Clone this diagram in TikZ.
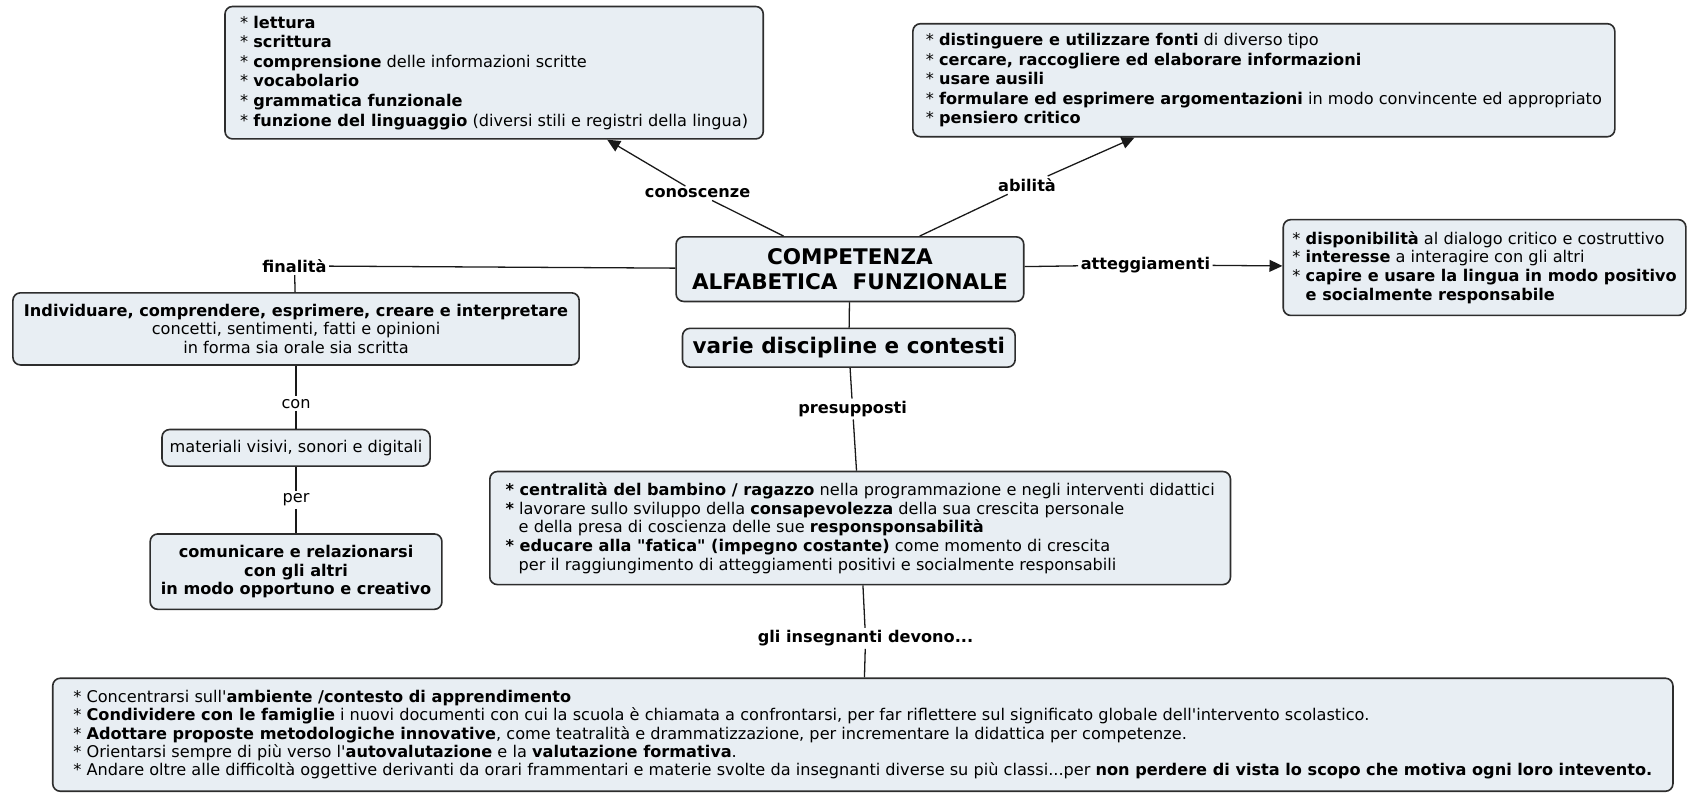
\documentclass[tikz,border=0pt]{standalone}
\usepackage{fontspec}
\setmainfont{DejaVu Sans}[Ligatures=TeXOff]
\usetikzlibrary{arrows.meta}
\definecolor{boxfill}{RGB}{232,238,243}
\definecolor{boxline}{RGB}{45,45,45}
\definecolor{linkcol}{RGB}{25,25,25}
\tikzset{
  concept/.style={draw=boxline, line width=0.75pt, fill=boxfill, rounded corners=3.5pt, inner sep=0pt, font=\fontsize{7.5}{8.9}\selectfont},
  leftc/.style={concept, align=left},
  centc/.style={concept, align=center},
  linklabel/.style={inner sep=1pt, font=\fontsize{7.5}{9}\selectfont\bfseries},
  linklabelr/.style={inner sep=1pt, font=\fontsize{7.5}{9}\selectfont},
  conn/.style={draw=linkcol, line width=0.6pt},
  arr/.style={conn, -{Triangle[length=6pt,width=5.5pt]}},
}
\begin{document}
\begin{tikzpicture}[x=0.5pt,y=-0.5pt]
\useasboundingbox (0,0) rectangle (1568,736);

% concepts
\node[leftc, minimum width=250pt, minimum height=61.5pt, font=\fontsize{7.5}{9.1}\selectfont] (nK) at (459,67.5) {%
* \textbf{lettura}\\
* \textbf{scrittura}\\
* \textbf{comprensione} delle informazioni scritte\\
* \textbf{vocabolario}\\
* \textbf{grammatica funzionale}\\
* \textbf{funzione del linguaggio} (diversi stili e registri della lingua)};

\node[leftc, minimum width=326pt, minimum height=52.5pt, font=\fontsize{7.5}{9.1}\selectfont] (nA) at (1174,74.5) {%
* \textbf{distinguere e utilizzare fonti} di diverso tipo\\
* \textbf{cercare, raccogliere ed elaborare informazioni}\\
* \textbf{usare ausili}\\
* \textbf{formulare ed esprimere argomentazioni} in modo convincente ed appropriato\\
* \textbf{pensiero critico}};

\node[centc, minimum width=161.5pt, minimum height=30pt, font=\fontsize{10}{12}\selectfont\bfseries] (nC) at (789.5,250) {COMPETENZA\\ALFABETICA\ \ FUNZIONALE};

\node[centc, minimum width=154.5pt, minimum height=18pt, font=\fontsize{10}{12}\selectfont\bfseries] (nV) at (788.5,323) {varie discipline e contesti};

\node[centc, minimum width=263pt, minimum height=33.5pt, font=\fontsize{7.5}{8.6}\selectfont] (nI) at (275,305.5) {%
\textbf{Individuare, comprendere, esprimere, creare e interpretare}\\
concetti, sentimenti, fatti e opinioni\\
in forma sia orale sia scritta};

\node[centc, minimum width=124.5pt, minimum height=17pt] (nM) at (275,416) {materiali visivi, sonori e digitali};

\node[centc, minimum width=135.5pt, minimum height=35pt, font=\fontsize{7.5}{8.65}\selectfont\bfseries] (nCo) at (275,531) {%
comunicare e relazionarsi\\con gli altri\\in modo opportuno e creativo};

\node[leftc, minimum width=187pt, minimum height=44.5pt, font=\fontsize{7.5}{8.75}\selectfont] (nAt) at (1379,248.5) {%
* \textbf{disponibilità} al dialogo critico e costruttivo\\
* \textbf{interesse} a interagire con gli altri\\
* \textbf{capire e usare la lingua in modo positivo}\\
\hphantom{* }\textbf{e socialmente responsabile}};

\node[leftc, minimum width=344pt, minimum height=52.5pt, font=\fontsize{7.5}{8.65}\selectfont] (nP) at (799,490.5) {%
\textbf{* centralità del bambino / ragazzo} nella programmazione e negli interventi didattici\\
\textbf{*} lavorare sullo sviluppo della \textbf{consapevolezza} della sua crescita personale\\
\hphantom{* }e della presa di coscienza delle sue \textbf{responsponsabilità}\\
\textbf{* educare alla "fatica" (impegno costante)} come momento di crescita\\
\hphantom{* }per il raggiungimento di atteggiamenti positivi e socialmente responsabili};

\node[leftc, minimum width=752.5pt, minimum height=52.5pt, font=\fontsize{7.5}{8.5}\selectfont] (nB) at (801.5,682.5) {%
* Concentrarsi sull'\textbf{ambiente /contesto di apprendimento}\\
* \textbf{Condividere con le famiglie} i nuovi documenti con cui la scuola è chiamata a confrontarsi, per far riflettere sul significato globale dell'intervento scolastico.\\
* \textbf{Adottare proposte metodologiche innovative}, come teatralità e drammatizzazione, per incrementare la didattica per competenze.\\
* Orientarsi sempre di più verso l'\textbf{autovalutazione} e la \textbf{valutazione formativa}.\\
* Andare oltre alle difficoltà oggettive derivanti da orari frammentari e materie svolte da insegnanti diverse su più classi...per \textbf{non perdere di vista lo scopo che motiva ogni loro intevento.}};

% linking phrases
\node[linklabel] (lK) at (648,179.5) {conoscenze};
\node[linklabel] (lA) at (954,172) {abilità};
\node[linklabel] (lF) at (273.5,247) {finalità};
\node[linklabel] (lAt) at (1064,246) {atteggiamenti};
\node[linklabelr] (lCon) at (275,375) {con};
\node[linklabelr] (lPer) at (275,464.5) {per};
\node[linklabel] (lP) at (792,380) {presupposti};
\node[linklabel] (lG) at (804,593) {gli insegnanti devono...};

% connectors
\draw[conn] (nC) -- (lK);  \draw[arr] (lK) -- (nK);
\draw[conn] (nC) -- (lA);  \draw[arr] (lA) -- (nA);
\draw[conn] (nC) -- (lF);  \draw[conn] (lF) -- (nI);
\draw[conn] (nI) -- (lCon); \draw[conn] (lCon) -- (nM);
\draw[conn] (nM) -- (lPer); \draw[conn] (lPer) -- (nCo);
\draw[conn] (nC) -- (lAt); \draw[arr] (lAt) -- (nAt);
\draw[conn] (nC) -- (nV);
\draw[conn] (nV) -- (lP);  \draw[conn] (lP) -- (nP);
\draw[conn] (nP) -- (lG);  \draw[conn] (lG) -- (nB);
\end{tikzpicture}
\end{document}
